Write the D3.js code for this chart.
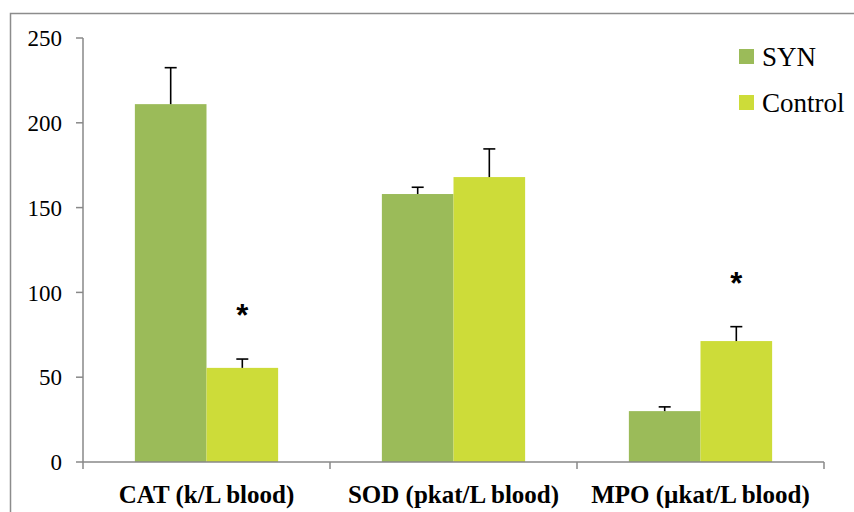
<!DOCTYPE html>
<html>
<head>
    <meta charset="utf-8">
    <title>SYN vs Control</title>
    <script src="https://d3js.org/d3.v7.min.js"></script>
</head>
<body style="margin:0">
    <svg width="854" height="512" font-family="'Liberation Serif', 'Times New Roman', serif" style="display:block; font-family: 'Liberation Serif', 'Times New Roman', serif;"></svg>

    <script>
        // Werte
        const categories = ["CAT (k/L blood)", "SOD (pkat/L blood)", "MPO (\u00b5kat/L blood)"];
        const series = ["SYN", "Control"];
        const synValues = [211, 158, 30];
        const synErrors = [21.5, 4, 2.5];
        const controlValues = [55.5, 168, 71.3];
        const controlErrors = [5.2, 16.6, 8.5];
        const controlStar = [true, false, true];
        const yTicks = [0, 50, 100, 150, 200, 250];
        const colors = ["#9bbb59", "#cddc39"];

        const svg = d3.select("svg");
        const plotLeft = 83, plotRight = 824, plotTop = 38, plotBottom = 462;

        // Rahmen um das Diagramm
        svg.append("rect")
            .attr("x", 10.5).attr("y", 13.5)
            .attr("width", 900).attr("height", 600)
            .attr("fill", "none")
            .attr("stroke", "#8c8c8c")
            .attr("stroke-width", 1.5);

        const y = d3.scaleLinear().domain([0, 250]).range([plotBottom, plotTop]);
        const x0 = d3.scaleBand().domain(categories).range([plotLeft, plotRight])
            .paddingInner(0.42).paddingOuter(0.21);
        const x1 = d3.scaleBand().domain(series).range([0, x0.bandwidth()]);
        const step = x0.step();

        const rows = categories.map((c, i) => ({
            cat: c,
            bars: [
                {s: "SYN", v: synValues[i], e: synErrors[i], star: false},
                {s: "Control", v: controlValues[i], e: controlErrors[i], star: controlStar[i]}
            ]
        }));

        // Balken
        const groups = svg.selectAll("g.grp").data(rows).join("g")
            .attr("class", "grp")
            .attr("transform", d => "translate(" + x0(d.cat) + ",0)");

        groups.selectAll("rect").data(d => d.bars).join("rect")
            .attr("x", d => x1(d.s))
            .attr("y", d => y(d.v))
            .attr("width", x1.bandwidth())
            .attr("height", d => y(0) - y(d.v))
            .attr("fill", (d, i) => colors[i]);

        // Fehlerbalken
        const eb = groups.selectAll("g.err").data(d => d.bars).join("g").attr("class", "err");
        eb.append("line")
            .attr("x1", d => x1(d.s) + x1.bandwidth() / 2)
            .attr("x2", d => x1(d.s) + x1.bandwidth() / 2)
            .attr("y1", d => y(d.v))
            .attr("y2", d => y(d.v + d.e))
            .attr("stroke", "#000").attr("stroke-width", 1.6);
        eb.append("line")
            .attr("x1", d => x1(d.s) + x1.bandwidth() / 2 - 6)
            .attr("x2", d => x1(d.s) + x1.bandwidth() / 2 + 6)
            .attr("y1", d => y(d.v + d.e))
            .attr("y2", d => y(d.v + d.e))
            .attr("stroke", "#000").attr("stroke-width", 1.6);

        // Sternchen
        groups.selectAll("text.star").data(d => d.bars.filter(b => b.star)).join("text")
            .attr("class", "star")
            .attr("x", d => x1(d.s) + x1.bandwidth() / 2)
            .attr("y", d => y(d.v + d.e) - 33)
            .attr("text-anchor", "middle")
            .style("font-family", "'Liberation Sans', Arial, sans-serif")
            .style("font-weight", "bold")
            .style("font-size", "31px")
            .text("*");

        // Achsen
        const axisColor = "#888";
        svg.append("line")
            .attr("x1", plotLeft).attr("x2", plotLeft)
            .attr("y1", y(250)).attr("y2", plotBottom)
            .attr("stroke", axisColor).attr("stroke-width", 1.5);
        svg.append("line")
            .attr("x1", plotLeft).attr("x2", plotRight)
            .attr("y1", plotBottom).attr("y2", plotBottom)
            .attr("stroke", axisColor).attr("stroke-width", 1.5);

        svg.selectAll("line.ytick").data(yTicks).join("line")
            .attr("class", "ytick")
            .attr("x1", plotLeft - 7).attr("x2", plotLeft)
            .attr("y1", d => y(d)).attr("y2", d => y(d))
            .attr("stroke", axisColor).attr("stroke-width", 1.5);

        svg.selectAll("text.ylab").data(yTicks).join("text")
            .attr("class", "ylab")
            .attr("x", 62)
            .attr("y", d => y(d))
            .attr("dy", "0.36em")
            .attr("text-anchor", "end")
            .style("font-size", "23px")
            .text(d => d);

        // Teilstriche an den Kategoriegrenzen
        const xTickPos = [plotLeft].concat(categories.map(c => x0(c) - x0.paddingOuter() * step + step));
        svg.selectAll("line.xtick").data(xTickPos).join("line")
            .attr("class", "xtick")
            .attr("x1", d => d).attr("x2", d => d)
            .attr("y1", plotBottom).attr("y2", plotBottom + 7)
            .attr("stroke", axisColor).attr("stroke-width", 1.5);

        svg.selectAll("text.xlab").data(categories).join("text")
            .attr("class", "xlab")
            .attr("x", d => x0(d) + x0.bandwidth() / 2)
            .attr("y", 503)
            .attr("text-anchor", "middle")
            .style("font-weight", "bold")
            .style("font-size", "25px")
            .text(d => d);

        // Legende
        const legend = svg.selectAll("g.leg").data(series).join("g")
            .attr("class", "leg")
            .attr("transform", (d, i) => "translate(739," + (49 + i * 46) + ")");
        legend.append("rect")
            .attr("width", 15).attr("height", 15)
            .attr("fill", (d, i) => colors[i]);
        legend.append("text")
            .attr("x", 23).attr("y", 17)
            .style("font-size", "27px")
            .text(d => d);
    </script>
</body>
</html>
